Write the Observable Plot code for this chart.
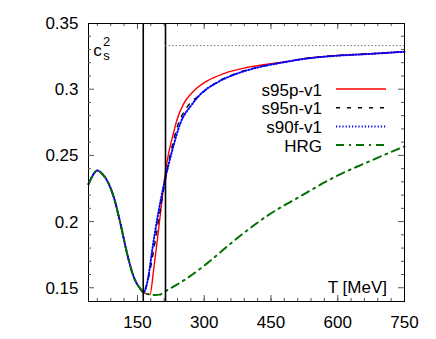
<!DOCTYPE html>
<html><head><meta charset="utf-8">
<script src="https://cdn.jsdelivr.net/npm/d3@7"></script>
<script src="https://cdn.jsdelivr.net/npm/@observablehq/plot@0.6"></script>
<style>body{margin:0;background:#fff;}</style>
</head><body><div id="chart"></div>
<script>
// ---- tick labels ----
const xTicks = [150, 300, 450, 600, 750];
const yTicks = [0.15, 0.2, 0.25, 0.3, 0.35];
const xMinor = [60,90,120,150,180,210,240,270,300,330,360,390,420,450,480,510,540,570,600,630,660,690,720];
const yMinor = [0.15,0.16,0.17,0.18,0.19,0.2,0.21,0.22,0.23,0.24,0.25,0.26,0.27,0.28,0.29,0.3,0.31,0.32,0.33,0.34];

// ---- reference lines ----
const transitionT = [163, 213];
const conformal = 1 / 3;

// ---- series ----
const seriesNames = ["s95p-v1", "s95n-v1", "s90f-v1", "HRG"];
// shared hadronic (low-T) branch
const hadronT = [40, 50, 60, 70, 82, 97, 112, 127, 142, 157, 164];
const hadronV = [0.2287, 0.2355, 0.2390, 0.2367, 0.2312, 0.2186, 0.1985, 0.1758, 0.1582, 0.1494, 0.1468];

const s95pT = [171, 178, 187, 198, 206, 213, 220, 230, 239, 254, 277, 307, 344, 389, 434, 486, 517, 591, 666, 750];
const s95pV = [0.1457, 0.1452, 0.1660, 0.1960, 0.2190, 0.2380, 0.2520, 0.2660, 0.2775, 0.2895, 0.2992, 0.3067, 0.3122, 0.3163, 0.3188, 0.3213, 0.3231, 0.3256, 0.3270, 0.3287];

const s95nT = [172, 181, 190, 202, 213, 224, 239, 262, 292, 329, 374, 427, 486, 517, 591, 666, 750];
const s95nV = [0.1544, 0.1683, 0.1859, 0.2110, 0.2325, 0.2514, 0.2715, 0.2870, 0.2965, 0.3058, 0.3125, 0.3175, 0.3212, 0.3230, 0.3256, 0.3270, 0.3287];

const s90fT = [168, 175.5, 183, 190, 202, 213, 228, 247, 270, 292, 329, 374, 427, 486, 517, 591, 666, 750];
const s90fV = [0.1494, 0.1607, 0.1783, 0.1935, 0.2161, 0.2337, 0.2539, 0.2752, 0.2878, 0.2967, 0.3054, 0.3122, 0.3173, 0.3211, 0.3229, 0.3255, 0.3269, 0.3287];

const hrgT = [178, 190, 200, 217, 247, 293, 307, 367, 442, 516, 591, 674, 750];
const hrgV = [0.1453, 0.1449, 0.1452, 0.1486, 0.1544, 0.1653, 0.1690, 0.1859, 0.2048, 0.2195, 0.2337, 0.2463, 0.2572];

const styles = {
  "s95p-v1": {stroke: "#ff0000", strokeWidth: 1.4, dash: null},
  "s95n-v1": {stroke: "#000000", strokeWidth: 1.4, dash: "4,7"},
  "s90f-v1": {stroke: "#0000ff", strokeWidth: 2, dash: "1.2,2"},
  "HRG":     {stroke: "#007000", strokeWidth: 2, dash: "8,5,2,5"}
};

function build(name, T, V) {
  const out = [];
  hadronT.forEach((t, i) => out.push({series: name, T: t, v: hadronV[i]}));
  T.forEach((t, i) => out.push({series: name, T: t, v: V[i]}));
  return out;
}
const rows = [
  ...build("s95p-v1", s95pT, s95pV),
  ...build("s95n-v1", s95nT, s95nV),
  ...build("s90f-v1", s90fT, s90fV),
  ...build("HRG", hrgT, hrgV)
];

const W = 436, H = 339, mL = 88, mR = 32, mT = 23, mB = 38;
const plotH = H - mT - mB;
const font = "'Liberation Sans', Arial, Helvetica, sans-serif";

const lineMarks = seriesNames.map(name => Plot.line(rows.filter(d => d.series === name), {
  x: "T", y: "v", curve: "monotone-x",
  stroke: styles[name].stroke, strokeWidth: styles[name].strokeWidth,
  strokeDasharray: styles[name].dash || undefined
}));

const chart = Plot.plot({
  width: W, height: H,
  marginLeft: mL, marginRight: mR, marginTop: mT, marginBottom: mB,
  x: {domain: [40, 750]},
  y: {domain: [0.14, 0.35]},
  style: {fontFamily: font, fontSize: "17px", background: "white", color: "black"},
  marks: [
    Plot.axisX({ticks: xTicks, tickSize: 0, tickPadding: 14, label: null}),
    Plot.axisY({ticks: yTicks, tickSize: 0, tickPadding: 10, label: null, tickFormat: d => String(+d.toFixed(2))}),
    // inward minor ticks
    Plot.ruleX(xMinor, {insetTop: plotH - 3, stroke: "#555"}),
    Plot.ruleX(xMinor, {insetBottom: plotH - 3, stroke: "#555"}),
    // inward major ticks
    Plot.ruleX(xTicks, {insetTop: plotH - 6, stroke: "#555"}),
    Plot.ruleX(xTicks, {insetBottom: plotH - 6, stroke: "#555"}),
    ...lineMarks,
    Plot.ruleX(transitionT, {stroke: "black", strokeWidth: 1.6}),
    Plot.ruleY([conformal], {x1: transitionT[1], x2: 750, stroke: "#777", strokeWidth: 1, strokeDasharray: "1.5,2"}),
    Plot.frame({stroke: "black"})
  ]
});
document.getElementById("chart").appendChild(chart);

// y ticks drawn inward via the y scale
const svg = d3.select(chart);
const ys = chart.scale("y");
const g = svg.append("g").attr("stroke", "#555");
yMinor.forEach(v => {
  const y = ys.apply(v);
  const major = yTicks.some(t => Math.abs(t - v) < 1e-9);
  const len = major ? 6 : 3;
  g.append("line").attr("x1", mL).attr("x2", mL + len).attr("y1", y).attr("y2", y);
  g.append("line").attr("x1", W - mR).attr("x2", W - mR - len).attr("y1", y).attr("y2", y);
});

// legend
const leg = svg.append("g").attr("font-family", font).attr("font-size", 17);
const legY0 = 89, legDy = 18.7;
seriesNames.forEach((name, i) => {
  const y = legY0 + i * legDy;
  leg.append("text").attr("x", 322).attr("y", y + 6.5).attr("text-anchor", "end").attr("fill", "black").text(name);
  leg.append("line").attr("x1", 336).attr("x2", 386).attr("y1", y).attr("y2", y)
    .attr("stroke", styles[name].stroke).attr("stroke-width", styles[name].strokeWidth)
    .attr("stroke-dasharray", styles[name].dash);
});

// axis labels
const lab = svg.append("g").attr("font-family", font).attr("fill", "black");
lab.append("text").attr("x", 387).attr("y", 293).attr("text-anchor", "end").attr("font-size", 17).text("T [MeV]");
lab.append("text").attr("x", 97.5).attr("y", 56).attr("font-size", 17).text("c");
lab.append("text").attr("x", 106.5).attr("y", 46).attr("font-size", 13).text("2");
lab.append("text").attr("x", 106.5).attr("y", 60).attr("font-size", 13).text("s");
</script>
</body></html>
